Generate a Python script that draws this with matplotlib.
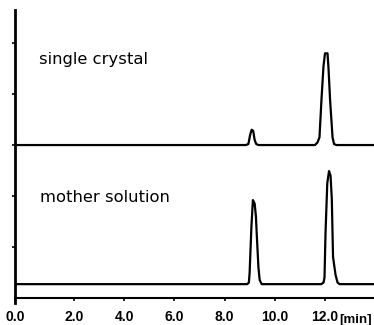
import matplotlib.pyplot as plt

# chromatogram traces: time [min], signal [a.u.]
crystal_t = [-0.32, 8.85, 8.95, 9.02, 9.08, 9.14, 9.2, 9.26, 9.35,
             11.6, 11.7, 11.78, 11.86, 11.94, 12.0, 12.1, 12.14, 12.2,
             12.3, 12.36, 12.45, 13.95]
crystal_y = [3.0, 3.0, 3.02, 3.2, 3.3, 3.28, 3.1, 3.02, 3.0,
             3.0, 3.05, 3.15, 3.9, 4.55, 4.8, 4.8, 4.5, 3.9,
             3.15, 3.02, 3.0, 3.0]

mother_t = [-0.32, 8.9, 8.97, 9.0, 9.07, 9.13, 9.2, 9.25, 9.29, 9.35,
            9.4, 9.48, 11.85, 11.94, 11.98, 12.02, 12.09, 12.16, 12.22,
            12.27, 12.32, 12.42, 12.5, 12.58, 13.95]
mother_y = [0.27, 0.27, 0.3, 0.5, 1.39, 1.92, 1.85, 1.6, 1.18, 0.6,
            0.35, 0.27, 0.27, 0.3, 0.4, 1.27, 2.25, 2.49, 2.4,
            1.95, 0.8, 0.45, 0.3, 0.27, 0.27]

xticks = [-0.32, 2, 4, 6, 8, 10, 12]
xlabels = ["0.0", "2.0", "4.0", "6.0", "8.0", "10.0", "12.0"]
yticks = [1, 2, 3, 4, 5]


def main():
    plt.rcParams['font.family'] = ['Liberation Sans', 'DejaVu Sans']
    fig = plt.figure(figsize=(3.74, 3.25), dpi=100)
    ax = fig.add_axes([0.0414, 0.0677, 0.9586, 0.9015])

    ax.plot(crystal_t, crystal_y, color="black", lw=1.6)
    ax.plot(mother_t, mother_y, color="black", lw=1.6)

    ax.set_xlim(-0.32, 13.95)
    ax.set_ylim(-0.1, 5.65)
    ax.spines['top'].set_visible(False)
    ax.spines['right'].set_visible(False)
    ax.spines['left'].set_linewidth(2)
    ax.spines['bottom'].set_linewidth(1.5)
    ax.spines['bottom'].set_position(('data', 0))

    ax.set_xticks(xticks)
    ax.set_xticklabels(xlabels, fontsize=10, fontweight='bold')
    ax.set_yticks(yticks)
    ax.set_yticklabels([])
    ax.tick_params(axis='both', length=2.5, width=1.2, direction='out')
    ax.tick_params(axis='x', pad=6.5)

    fig.text(0.908, 0.007, "[min]", fontsize=9.5, fontweight='bold',
             ha='left', va='baseline')
    ax.text(0.61, 4.60, "single crystal", fontsize=11.8,
            family='DejaVu Sans', ha='left', va='baseline')
    ax.text(0.65, 1.89, "mother solution", fontsize=11.8,
            family='DejaVu Sans', ha='left', va='baseline')

    fig.savefig("out.png", dpi=100)


if __name__ == "__main__":
    main()
